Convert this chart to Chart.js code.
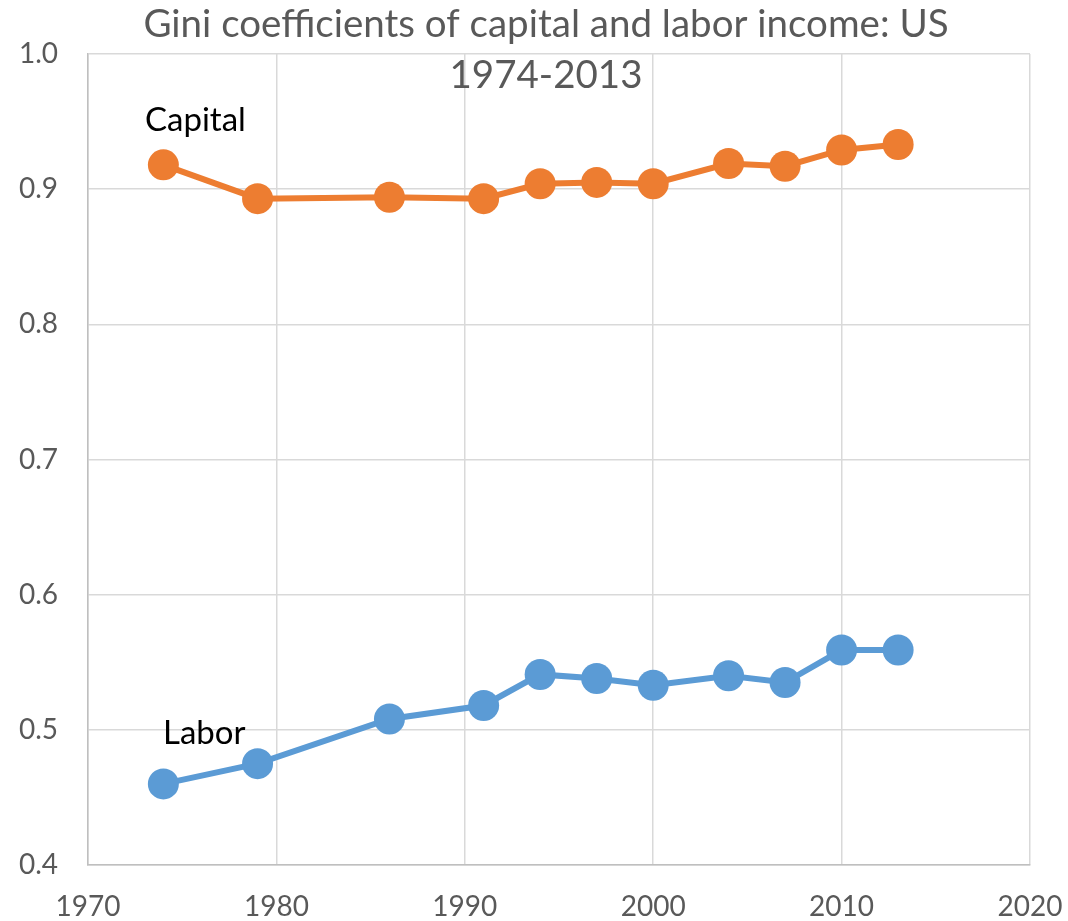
<!DOCTYPE html>
<html>
<head>
<meta charset="utf-8">
<script src="https://cdn.jsdelivr.net/npm/chart.js@4.4.0/dist/chart.umd.min.js"></script>
<style>
  html, body { margin: 0; padding: 0; background: #ffffff; }
  #wrap { position: relative; width: 1068px; height: 921px; }
</style>
</head>
<body>
<div id="wrap"><canvas id="c" width="1068" height="921"></canvas></div>
<script>
const titleLines = ["Gini coefficients of capital and labor income: US", "1974-2013"];
const years = [1974, 1979, 1986, 1991, 1994, 1997, 2000, 2004, 2007, 2010, 2013];
const capital = [0.918, 0.893, 0.894, 0.893, 0.904, 0.905, 0.904, 0.919, 0.917, 0.929, 0.933];
const labor = [0.460, 0.475, 0.508, 0.518, 0.541, 0.538, 0.533, 0.540, 0.535, 0.559, 0.559];
const seriesNames = ["Capital", "Labor"];
const seriesColors = ["#ED7D31", "#5B9BD5"];
const xTicks = [1970, 1980, 1990, 2000, 2010, 2020];
const yTicks = [0.4, 0.5, 0.6, 0.7, 0.8, 0.9, 1.0];

const FONT = "Lato, 'Open Sans', sans-serif";

const toPoints = (vals) => years.map((y, i) => ({ x: y, y: vals[i] }));

const annotate = {
  id: 'annotate',
  afterDraw(chart) {
    const ctx = chart.ctx;
    ctx.save();
    ctx.fillStyle = '#595959';
    ctx.font = `38.5px ${FONT}`;
    ctx.textAlign = 'center';
    ctx.textBaseline = 'middle';
    ctx.fillText(titleLines[0], 546, 25);
    ctx.fillText(titleLines[1], 546, 76);
    ctx.fillStyle = '#000000';
    ctx.font = `33px ${FONT}`;
    ctx.textAlign = 'left';
    ctx.fillText(seriesNames[0], 145, 120);
    ctx.fillText(seriesNames[1], 163, 733);
    ctx.restore();
  }
};

new Chart(document.getElementById('c'), {
  type: 'line',
  data: {
    datasets: [
      {
        label: seriesNames[0],
        data: toPoints(capital),
        borderColor: seriesColors[0],
        backgroundColor: seriesColors[0],
        pointBackgroundColor: seriesColors[0],
        pointBorderWidth: 0,
        pointRadius: 15.5,
        borderWidth: 6,
        tension: 0
      },
      {
        label: seriesNames[1],
        data: toPoints(labor),
        borderColor: seriesColors[1],
        backgroundColor: seriesColors[1],
        pointBackgroundColor: seriesColors[1],
        pointBorderWidth: 0,
        pointRadius: 15.5,
        borderWidth: 6,
        tension: 0
      }
    ]
  },
  options: {
    responsive: false,
    animation: false,
    clip: false,
    layout: { padding: { top: 54, right: 38, left: 0, bottom: 0 } },
    plugins: {
      legend: { display: false },
      title: { display: false },
      tooltip: { enabled: false }
    },
    scales: {
      x: {
        type: 'linear',
        min: 1970,
        max: 2020,
        afterBuildTicks(scale) { scale.ticks = xTicks.map(v => ({ value: v })); },
        afterFit(scale) {
          scale.height = 56;
          scale.paddingLeft = 0;
          scale.paddingRight = 0;
        },
        ticks: {
          color: '#595959',
          font: { family: FONT, size: 28 },
          padding: 25,
          maxRotation: 0,
          autoSkip: false,
          callback: (v) => String(v)
        },
        grid: { color: '#D9D9D9', lineWidth: 1.5, drawTicks: false },
        border: { color: '#BFBFBF', width: 1.5 }
      },
      y: {
        min: 0.4,
        max: 1.0,
        afterBuildTicks(scale) { scale.ticks = yTicks.map(v => ({ value: v })); },
        afterFit(scale) {
          scale.width = 88;
          scale.paddingTop = 0;
          scale.paddingBottom = 0;
        },
        ticks: {
          color: '#595959',
          font: { family: FONT, size: 28 },
          padding: 30,
          autoSkip: false,
          callback: (v) => Number(v).toFixed(1)
        },
        grid: { color: '#D9D9D9', lineWidth: 1.5, drawTicks: false },
        border: { color: '#BFBFBF', width: 1.5 }
      }
    }
  },
  plugins: [annotate]
});
</script>
</body>
</html>
